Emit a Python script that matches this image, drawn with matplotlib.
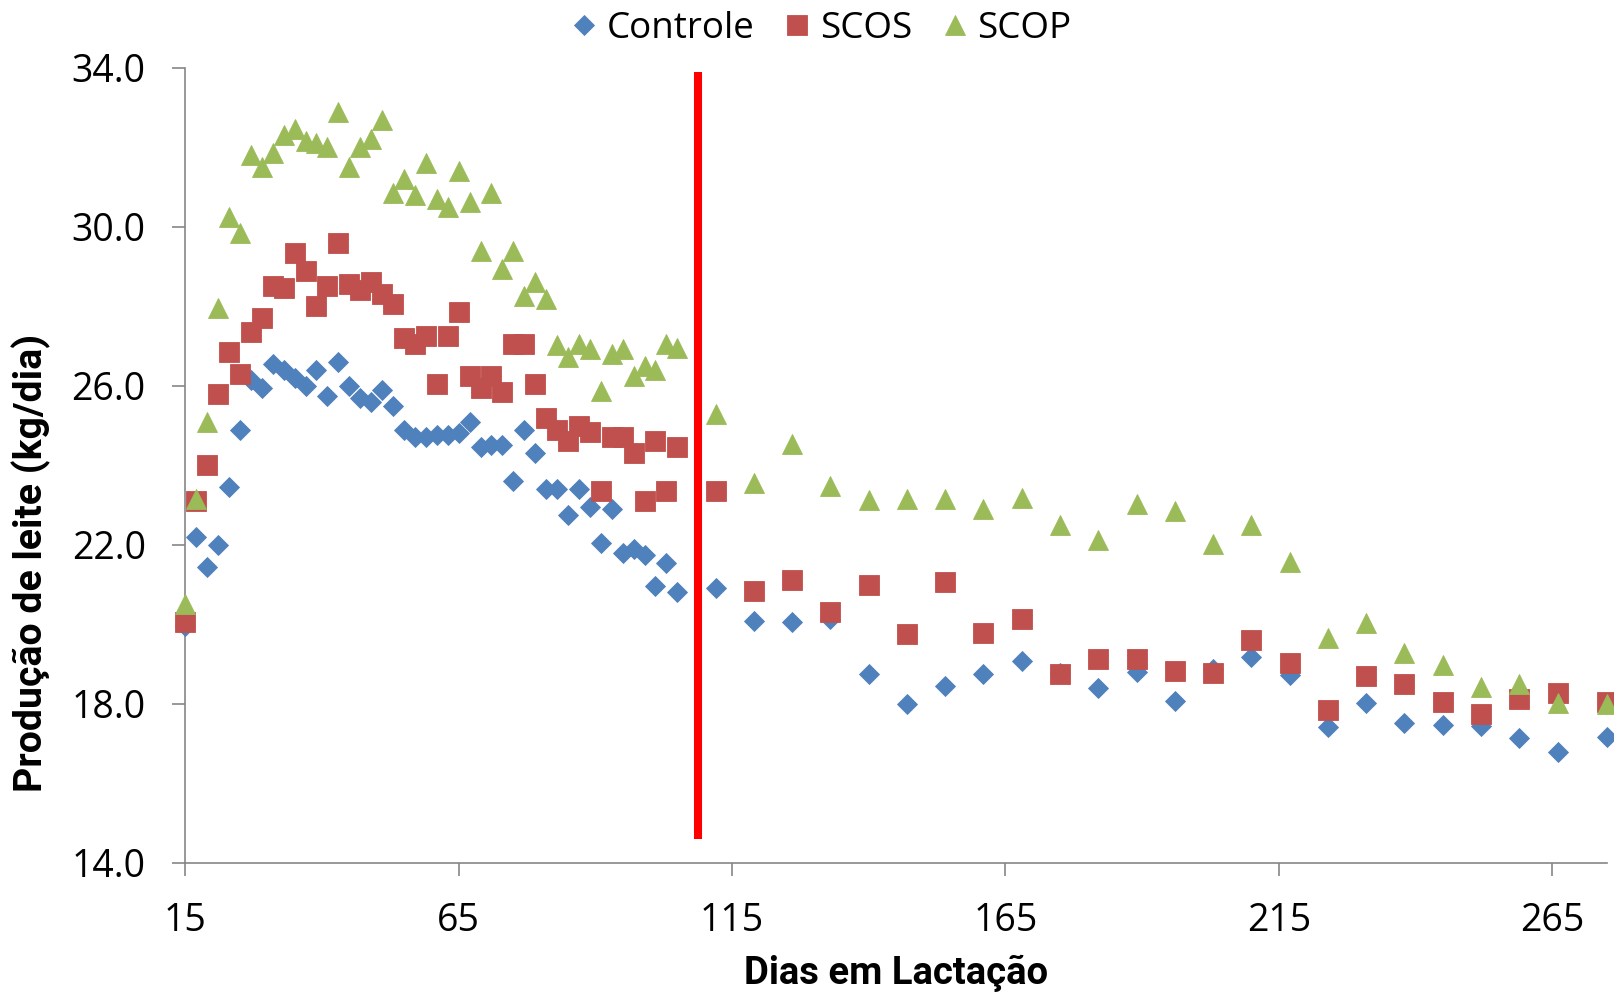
import matplotlib
matplotlib.use("Agg")
import matplotlib.pyplot as plt
from matplotlib import font_manager
from matplotlib.ticker import FixedLocator, FormatStrFormatter

# dias em lactação (a cada 2 dias até 105, depois semanal)
days = [15, 17, 19, 21, 23, 25, 27, 29, 31, 33, 35, 37, 39, 41, 43, 45,
        47, 49, 51, 53, 55, 57, 59, 61, 63, 65, 67, 69, 71, 73, 75, 77,
        79, 81, 83, 85, 87, 89, 91, 93, 95, 97, 99, 101, 103, 105,
        112, 119, 126, 133, 140, 147, 154, 161, 168, 175, 182, 189, 196,
        203, 210, 217, 224, 231, 238, 245, 252, 259, 266, 275]

controle = [19.95, 22.2, 21.45, 22.0, 23.45, 24.9, 26.15, 25.95, 26.55, 26.4,
            26.2, 26.0, 26.4, 25.75, 26.6, 26.0, 25.7, 25.6, 25.9, 25.5,
            24.9, 24.7, 24.7, 24.75, 24.75, 24.8, 25.1, 24.45, 24.5, 24.5,
            23.6, 24.9, 24.3, 23.4, 23.4, 22.75, 23.4, 22.95, 22.05, 22.9,
            21.8, 21.9, 21.75, 20.95, 21.55, 20.8,
            20.9, 20.07, 20.05, 20.12, 18.74, 18.0, 18.45, 18.74, 19.08, 18.78,
            18.39, 18.81, 18.07, 18.88, 19.17, 18.72, 17.42, 18.03, 17.52,
            17.46, 17.43, 17.15, 16.79, 17.17]

scos = [20.05, 23.1, 24.0, 25.8, 26.85, 26.3, 27.35, 27.7, 28.5, 28.45,
        29.35, 28.9, 28.0, 28.5, 29.6, 28.55, 28.4, 28.6, 28.3, 28.05,
        27.2, 27.05, 27.25, 26.05, 27.25, 27.85, 26.25, 25.95, 26.25, 25.85,
        27.05, 27.05, 26.05, 25.2, 24.9, 24.6, 25.0, 24.85, 23.35, 24.7,
        24.7, 24.3, 23.1, 24.6, 23.35, 24.45,
        23.36, 20.84, 21.12, 20.3, 21.0, 19.75, 21.07, 19.79, 20.13, 18.74,
        19.12, 19.12, 18.83, 18.77, 19.6, 19.02, 17.84, 18.71, 18.5,
        18.05, 17.74, 18.12, 18.26, 18.05]

scop = [20.5, 23.15, 25.1, 27.95, 30.25, 29.85, 31.8, 31.5, 31.85, 32.3,
        32.45, 32.15, 32.1, 32.0, 32.9, 31.5, 32.0, 32.2, 32.7, 30.85,
        31.2, 30.8, 31.6, 30.7, 30.5, 31.4, 30.62, 29.4, 30.85, 28.93,
        29.4, 28.25, 28.6, 28.18, 27.03, 26.73, 27.05, 26.92, 25.86, 26.8,
        26.92, 26.25, 26.5, 26.4, 27.05, 26.95,
        25.29, 23.55, 24.54, 23.48, 23.13, 23.15, 23.15, 22.89, 23.17, 22.5,
        22.12, 23.03, 22.85, 22.02, 22.5, 21.57, 19.65, 20.02, 19.28,
        18.97, 18.41, 18.5, 18.03, 17.99]

series_names = ["Controle", "SCOS", "SCOP"]
x_ticks = [15, 65, 115, 165, 215, 265]
y_ticks = [14, 18, 22, 26, 30, 34]
cutoff_day = 108.7  # linha vermelha

installed = {f.name for f in font_manager.fontManager.ttflist}
base_font = "Open Sans" if "Open Sans" in installed else "DejaVu Sans"
title_font = "Liberation Sans Narrow" if "Liberation Sans Narrow" in installed else "Roboto"

plt.rcParams["font.family"] = [base_font, "DejaVu Sans"]

fig = plt.figure(figsize=(16.14, 9.94), dpi=100)
ax = fig.add_axes([0.1148, 0.1321, 0.8807, 0.7996])

grey = "#868686"
styles = [("D", 10.2, "#4F81BD"), ("s", 13.8, "#C0504D"), ("^", 14.4, "#9BBB59")]
handles = []
for vals, name, (mk, ms, col) in zip([controle, scos, scop], series_names, styles):
    h, = ax.plot(days, vals, ls="none", marker=mk, ms=ms, color=col,
                 mec=col, mew=0.6, label=name, clip_on=False, zorder=3)
    handles.append(h)

ax.vlines(cutoff_day, 14.6, 33.9, color="#FF0000", lw=5.8, zorder=4)

ax.set_xlim(15, 275)
ax.set_ylim(14, 34)
ax.xaxis.set_major_locator(FixedLocator(x_ticks))
ax.yaxis.set_major_locator(FixedLocator(y_ticks))
ax.yaxis.set_major_formatter(FormatStrFormatter("%.1f"))

for s in ["top", "right"]:
    ax.spines[s].set_visible(False)
for s in ["left", "bottom"]:
    ax.spines[s].set_color(grey)
    ax.spines[s].set_linewidth(1.2)
ax.tick_params(axis="both", direction="out", length=9.5, width=1.2, color=grey,
               labelsize=27, labelcolor="black")
ax.tick_params(axis="y", pad=19)
ax.tick_params(axis="x", pad=19)

ax.set_xlabel("Dias em Lactação", fontsize=27.5, fontweight="bold", family=[title_font, "DejaVu Sans"])
ax.set_ylabel("Produção de leite (kg/dia)", fontsize=28.3, fontweight="bold", family=[title_font, "DejaVu Sans"])
ax.xaxis.label.set_va("center")
ax.yaxis.label.set_va("center")
ax.xaxis.set_label_coords(0.5, -0.139)
ax.yaxis.set_label_coords(-0.1086, 0.377)

fig.legend(handles, series_names, loc="center", bbox_to_anchor=(0.5095, 0.971), ncol=3,
           frameon=False, fontsize=26.5, handlelength=0.6, handletextpad=0.3,
           columnspacing=0.88, borderpad=0)

fig.savefig("out.png", dpi=100)
